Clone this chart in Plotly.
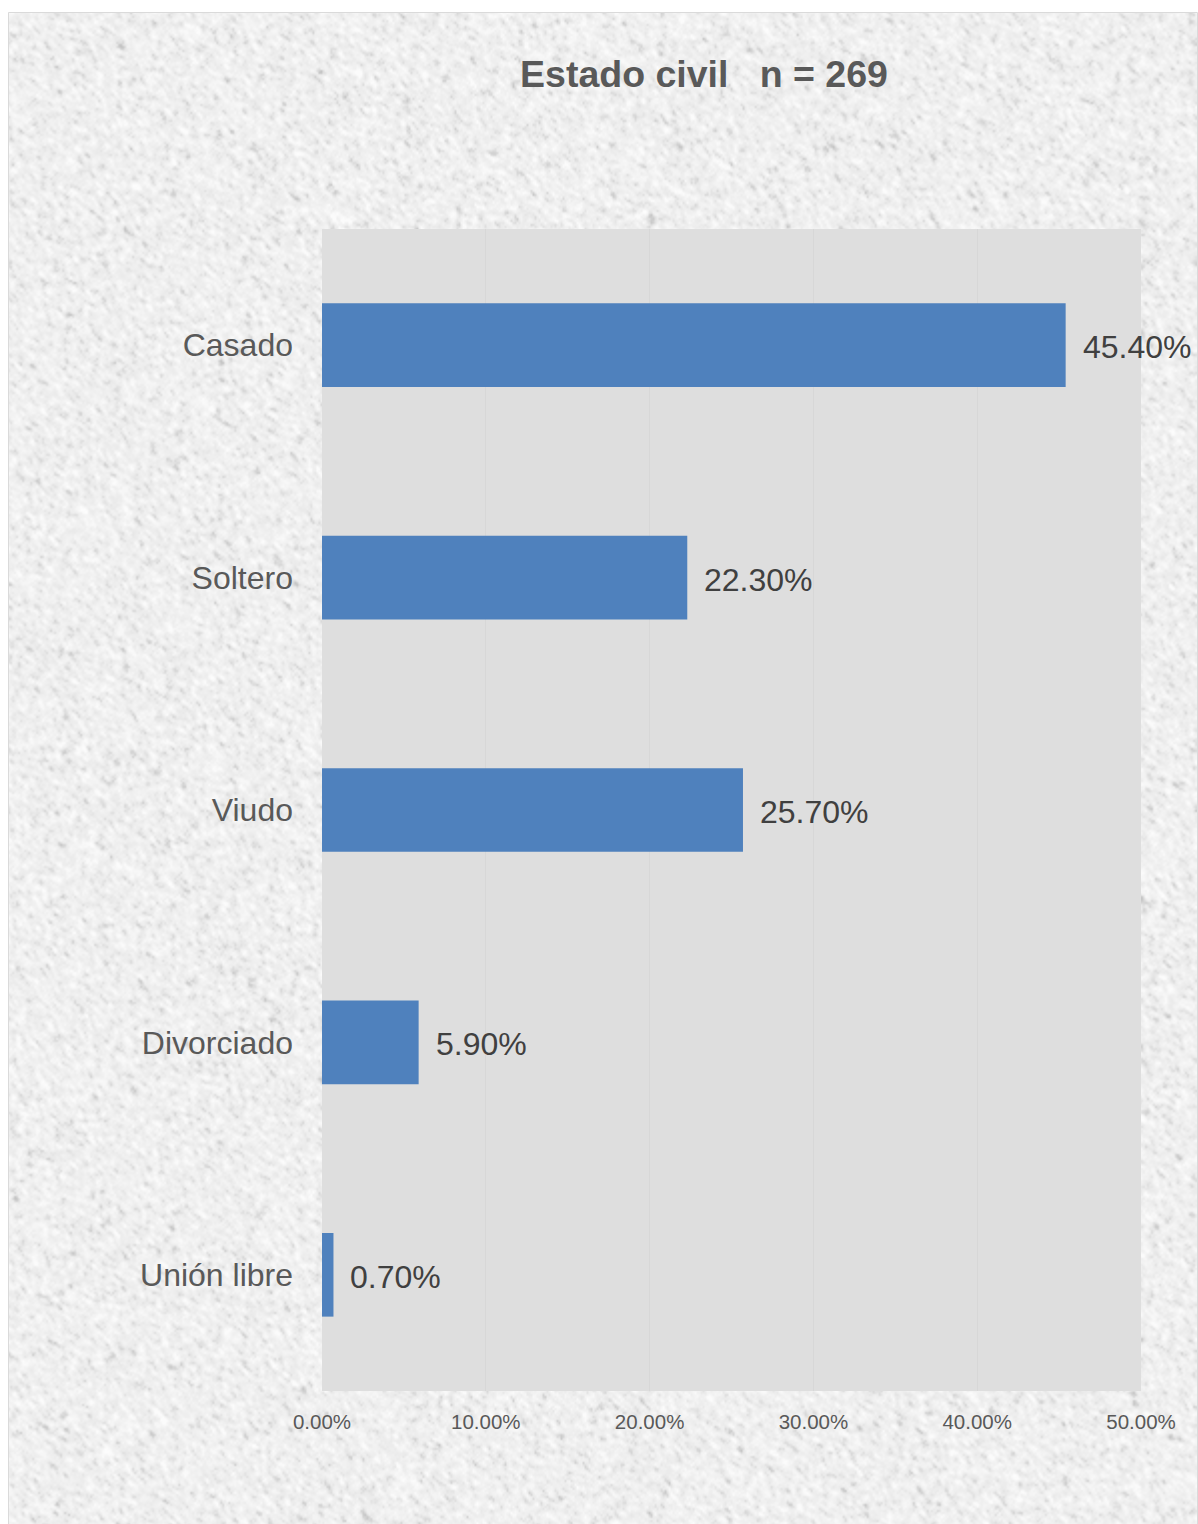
import base64
import struct
import zlib

import numpy as np
import plotly.graph_objects as go

# Marital status distribution (share of respondents, n = 269)
categories = ["Casado", "Soltero", "Viudo", "Divorciado", "Unión libre"]
shares = [0.454, 0.223, 0.257, 0.059, 0.007]
x_ticks = [0.0, 0.1, 0.2, 0.3, 0.4, 0.5]
title_text = "Estado civil\u00a0\u00a0\u00a0n = 269"

W, H = 1198, 1524
ML, MR, MT, MB = 322, 57, 229, 133
PW, PH = W - ML - MR, H - MT - MB

BAR = "#4F81BD"
PLOT_BG = "#DEDEDE"
FONT = "Liberation Sans, Arial, sans-serif"


def px_to_paper_x(px):
    return (px - ML) / PW


def px_to_paper_y(py):
    return (H - MB - py) / PH


def granite_texture(w, h, seed=11):
    """Light grey speckled fill used behind the chart."""
    rng = np.random.default_rng(seed)
    n = rng.normal(size=(h, w))
    s = n.copy()
    for dy, dx in [(1, 0), (-1, 0), (0, 1), (0, -1), (1, 1), (-1, -1)]:
        s += np.roll(np.roll(n, dy, 0), dx, 1)
    s /= s.std()
    val = 240 + 5 * s - 10 * np.clip(-s - 1.1, 0, None)
    return np.clip(val, 195, 252).astype(np.uint8)


def png_data_uri(gray):
    h, w = gray.shape
    raw = b"".join(b"\x00" + gray[i].tobytes() for i in range(h))

    def chunk(tag, data):
        body = tag + data
        return struct.pack(">I", len(data)) + body + struct.pack(">I", zlib.crc32(body) & 0xFFFFFFFF)

    png = (b"\x89PNG\r\n\x1a\n"
           + chunk(b"IHDR", struct.pack(">IIBBBBB", w, h, 8, 0, 0, 0, 0))
           + chunk(b"IDAT", zlib.compress(raw, 9))
           + chunk(b"IEND", b""))
    return "data:image/png;base64," + base64.b64encode(png).decode()


# chart area starts a few pixels in from the page edge
AREA_X0, AREA_Y0 = 8, 12
AREA_X1, AREA_Y1 = W - 1, H + 4
tex = granite_texture((AREA_X1 - AREA_X0) // 2, (AREA_Y1 - AREA_Y0) // 2)

fig = go.Figure(
    go.Bar(
        x=shares,
        y=categories,
        orientation="h",
        marker=dict(color=BAR, line=dict(width=0)),
        hoverinfo="skip",
    )
)

# value labels to the right of each bar
for cat, v in zip(categories, shares):
    fig.add_annotation(
        x=v, y=cat, xref="x", yref="y",
        text=f"{v * 100:.2f}%",
        showarrow=False, xanchor="left", yanchor="middle",
        xshift=15, yshift=-2,
        font=dict(family=FONT, size=32, color="#404040"),
    )

fig.update_layout(
    width=W,
    height=H,
    margin=dict(l=ML, r=MR, t=MT, b=MB, pad=0),
    paper_bgcolor="white",
    plot_bgcolor="rgba(0,0,0,0)",
    bargap=0.64,
    showlegend=False,
    title=dict(
        text=title_text,
        xref="container", yref="container",
        x=704 / W, y=1 - 74 / H,
        xanchor="center", yanchor="middle",
        font=dict(family=FONT, size=37.5, color="#595959", weight="bold"),
    ),
    xaxis=dict(
        range=[0, 0.5],
        tickvals=x_ticks,
        tickformat=".2%",
        showgrid=True,
        gridcolor="#D7D7D7",
        gridwidth=1,
        zeroline=False,
        showline=False,
        ticks="",
        ticklabelstandoff=16,
        tickfont=dict(family=FONT, size=20.5, color="#595959"),
        fixedrange=True,
    ),
    yaxis=dict(
        autorange="reversed",
        showgrid=False,
        zeroline=False,
        showline=False,
        ticks="",
        ticklabelstandoff=28,
        tickfont=dict(family=FONT, size=32, color="#595959"),
        fixedrange=True,
    ),
    images=[dict(
        source=png_data_uri(tex),
        xref="paper", yref="paper",
        x=px_to_paper_x(AREA_X0), y=px_to_paper_y(AREA_Y0),
        sizex=(AREA_X1 - AREA_X0) / PW, sizey=(AREA_Y1 - AREA_Y0) / PH,
        xanchor="left", yanchor="top",
        sizing="stretch", layer="below",
    )],
    shapes=[
        # plot area fill, above the textured background
        dict(type="rect", xref="paper", yref="paper", x0=0, x1=1, y0=0, y1=1,
             fillcolor=PLOT_BG, line=dict(width=0), layer="below"),
        # thin frame around the chart area
        dict(type="rect", xref="paper", yref="paper",
             x0=px_to_paper_x(AREA_X0 + 0.5), x1=px_to_paper_x(AREA_X1 + 0.5),
             y0=px_to_paper_y(AREA_Y1), y1=px_to_paper_y(AREA_Y0 + 0.5),
             fillcolor="rgba(0,0,0,0)", line=dict(color="#DADADA", width=1), layer="below"),
    ],
)

fig.write_html("out.html", config={"displayModeBar": False})
